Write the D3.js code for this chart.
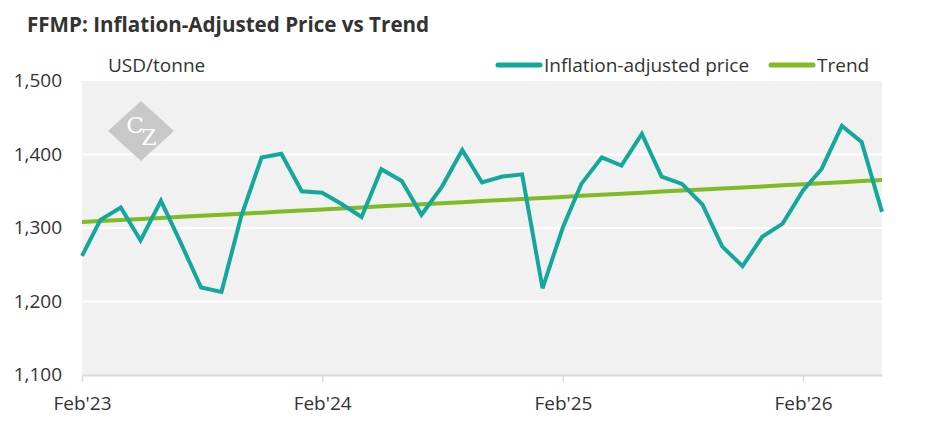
<!DOCTYPE html>
<html>
<head>
<meta charset="utf-8">
<script src="https://cdn.jsdelivr.net/npm/d3@7/dist/d3.min.js"></script>
<style>
  body { margin: 0; background: #fff; }
  text { font-family: "Open Sans", "Noto Sans", sans-serif; fill: #333; }
</style>
</head>
<body>
<div id="chart"></div>
<script>
// monthly points, Feb'23 .. Jun'26
var startMonth = new Date(2023, 1, 1);
var price = [1262, 1311, 1328, 1283, 1337, 1280, 1219, 1213, 1316, 1396,
  1401, 1350, 1348, 1333, 1315, 1380, 1364, 1318, 1356, 1406,
  1362, 1370, 1373, 1218, 1301, 1360, 1396, 1385, 1428, 1370,
  1360, 1332, 1275, 1248, 1288, 1306, 1351, 1380, 1439, 1417, 1322];
var trend = [1308.0, 1309.4, 1310.9, 1312.3, 1313.7, 1315.2, 1316.6, 1318.0, 1319.4, 1320.9,
  1322.3, 1323.7, 1325.2, 1326.6, 1328.0, 1329.5, 1330.9, 1332.3, 1333.7, 1335.2,
  1336.6, 1338.0, 1339.5, 1340.9, 1342.3, 1343.8, 1345.2, 1346.6, 1348.0, 1349.5,
  1350.9, 1352.3, 1353.8, 1355.2, 1356.6, 1358.1, 1359.5, 1360.9, 1362.3, 1363.8, 1365.2];
var yTicks = [1100, 1200, 1300, 1400, 1500];
var xTicks = [new Date(2023, 1, 1), new Date(2024, 1, 1), new Date(2025, 1, 1), new Date(2026, 1, 1)];

var width = 945, height = 443;
var plotLeft = 82, plotRight = 882, plotTop = 81, plotBottom = 375;

var dates = price.map(function(d, i) { return d3.timeMonth.offset(startMonth, i); });

var svg = d3.select("#chart").append("svg")
  .attr("width", width)
  .attr("height", height);

var x = d3.scaleTime()
  .domain([dates[0], dates[dates.length - 1]])
  .range([plotLeft, plotRight]);
var y = d3.scaleLinear()
  .domain([1100, 1500])
  .range([plotBottom, plotTop]);

// title
svg.append("text")
  .attr("x", 27).attr("y", 32)
  .style("font-size", "20.6px").style("font-weight", "bold")
  .text("FFMP: Inflation-Adjusted Price vs Trend");

// plot background
svg.append("rect")
  .attr("x", plotLeft).attr("y", plotTop)
  .attr("width", plotRight - plotLeft).attr("height", plotBottom - plotTop)
  .attr("fill", "#f1f1f1");

// gridlines
svg.append("g").selectAll("line")
  .data(yTicks.slice(1, -1))
  .enter().append("line")
  .attr("x1", plotLeft).attr("x2", plotRight)
  .attr("y1", d => y(d)).attr("y2", d => y(d))
  .attr("stroke", "#fff").attr("stroke-width", 2);

// y labels
svg.append("g").selectAll("text")
  .data(yTicks)
  .enter().append("text")
  .attr("x", 62).attr("y", d => y(d) + 6)
  .attr("text-anchor", "end")
  .style("font-size", "19px")
  .text(d => d3.format(",")(d));

// x axis
var xAxis = d3.axisBottom(x)
  .tickValues(xTicks)
  .tickSize(7)
  .tickSizeOuter(0)
  .tickFormat(d => d3.timeFormat("%b'%y")(d));
var gx = svg.append("g")
  .attr("transform", "translate(0," + plotBottom + ")")
  .call(xAxis);
gx.select(".domain").attr("stroke", "#d9d9d9").attr("stroke-width", 2);
gx.selectAll(".tick line").attr("stroke", "#d9d9d9").attr("stroke-width", 1.5);
gx.selectAll(".tick text")
  .attr("dy", null).attr("y", 35)
  .style("font-size", "19px")
  .style("font-family", "'Open Sans', sans-serif")
  .attr("fill", "#333");

// logo watermark
var logo = svg.append("g").attr("transform", "translate(141,131)");
logo.append("path")
  .attr("d", "M0,-30L33,0L0,30L-33,0Z")
  .attr("fill", "#c8c8c8");
logo.append("text")
  .attr("x", -6).attr("y", 2)
  .attr("text-anchor", "middle")
  .style("font-family", "'DejaVu Serif', 'Liberation Serif', serif")
  .style("font-size", "23px")
  .style("fill", "#fff")
  .text("C");
logo.append("text")
  .attr("x", 8).attr("y", 14)
  .attr("text-anchor", "middle")
  .style("font-family", "'DejaVu Serif', 'Liberation Serif', serif")
  .style("font-size", "22px")
  .style("fill", "#fff")
  .text("Z");

// unit label
svg.append("text")
  .attr("x", 108).attr("y", 72)
  .style("font-size", "19px")
  .text("USD/tonne");

var line = d3.line()
  .x((d, i) => x(dates[i]))
  .y(d => y(d));

svg.append("path")
  .datum(trend)
  .attr("d", line)
  .attr("fill", "none")
  .attr("stroke", "#7fbb26")
  .attr("stroke-width", 4);

svg.append("path")
  .datum(price)
  .attr("d", line)
  .attr("fill", "none")
  .attr("stroke", "#14a79b")
  .attr("stroke-width", 4)
  .attr("stroke-linejoin", "miter");

// legend
var legend = [
  { name: "Inflation-adjusted price", color: "#14a79b", x: 498 },
  { name: "Trend", color: "#7fbb26", x: 771 }
];
var lg = svg.append("g").selectAll("g")
  .data(legend)
  .enter().append("g")
  .attr("transform", d => "translate(" + d.x + ",65)");
lg.append("line")
  .attr("x1", 0).attr("x2", 42)
  .attr("stroke", d => d.color)
  .attr("stroke-width", 5)
  .attr("stroke-linecap", "round");
lg.append("text")
  .attr("x", 46).attr("y", 7)
  .style("font-size", "19px")
  .text(d => d.name);
</script>
</body>
</html>
